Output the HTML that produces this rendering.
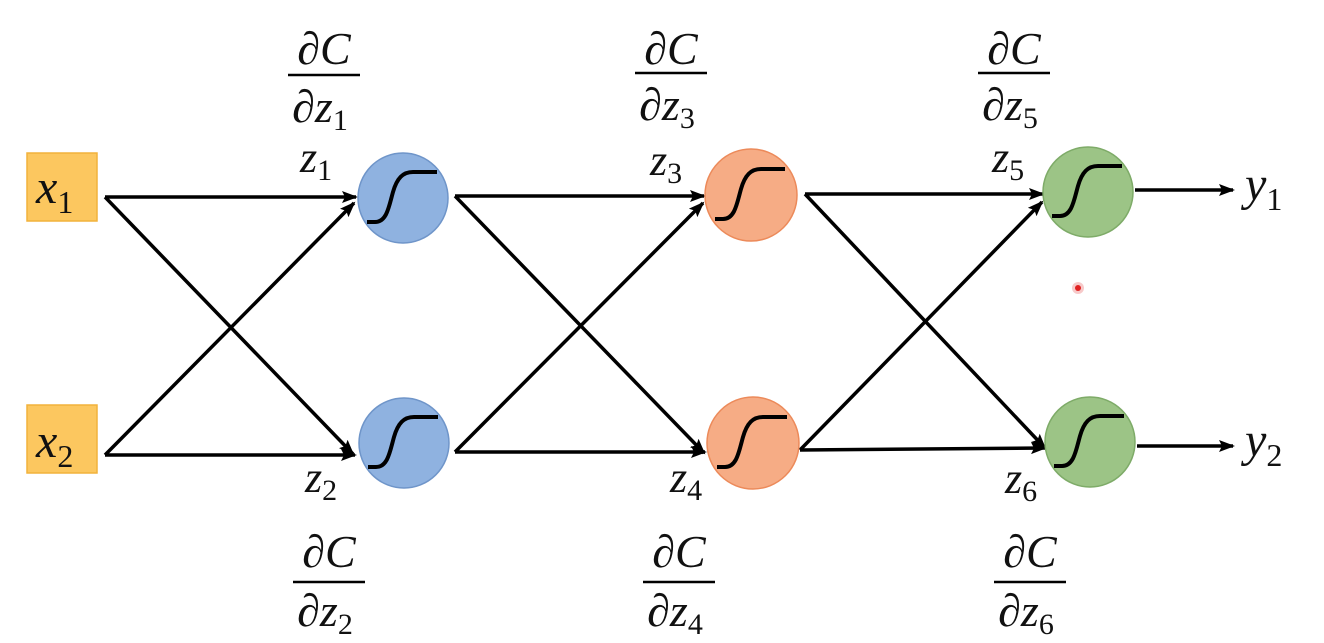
<!DOCTYPE html>
<html><head><meta charset="utf-8"><style>
html,body{margin:0;padding:0;background:#fff;}
svg{display:block;}
text{font-family:"Liberation Serif",serif;font-style:italic;fill:#111;}
.sub{font-style:normal;}
</style></head><body>
<svg width="1324" height="643" viewBox="0 0 1324 643" xmlns="http://www.w3.org/2000/svg">
<defs>
<marker id="ar" markerWidth="16" markerHeight="12" refX="14" refY="6" orient="auto" markerUnits="userSpaceOnUse">
<path d="M0,0 L16,6 L0,12 L3,6 Z" fill="#000"/>
</marker>
<g id="sig"><path d="M-36,24 L-28,24 C-16,24 -14,8 -10,-6 C-6,-20 0,-26 10,-26 L34,-26" fill="none" stroke="#000" stroke-width="4"/></g>
</defs>
<rect x="27" y="153" width="70" height="68" fill="#fcc75f" stroke="#f2b23c" stroke-width="1.5"/>
<rect x="27" y="405" width="70" height="68" fill="#fcc75f" stroke="#f2b23c" stroke-width="1.5"/>
<text x="36" y="203" font-size="48">x<tspan class="sub" font-size="32" dy="10">1</tspan></text>
<text x="36" y="457" font-size="48">x<tspan class="sub" font-size="32" dy="10">2</tspan></text>
<g stroke="#000" stroke-width="3.5" fill="none" marker-end="url(#ar)">
<line x1="105" y1="197" x2="356" y2="197"/>
<line x1="105" y1="197" x2="353" y2="454"/>
<line x1="105" y1="455" x2="355" y2="455"/>
<line x1="105" y1="455" x2="354" y2="203"/>
<line x1="455" y1="196" x2="704" y2="196"/>
<line x1="455" y1="196" x2="704" y2="453"/>
<line x1="455" y1="452" x2="705" y2="452"/>
<line x1="455" y1="452" x2="703" y2="203"/>
<line x1="805" y1="194" x2="1043" y2="194"/>
<line x1="805" y1="194" x2="1045" y2="448"/>
<line x1="800" y1="450" x2="1045" y2="448"/>
<line x1="800" y1="450" x2="1042" y2="202"/>
<line x1="1135" y1="190" x2="1233" y2="190"/>
<line x1="1137" y1="446" x2="1233" y2="446"/>
</g>
<g stroke-width="1.5">
<circle cx="403" cy="198" r="45" fill="#8fb2e0" stroke="#6f95c9"/>
<circle cx="404" cy="443" r="45" fill="#8fb2e0" stroke="#6f95c9"/>
<circle cx="751" cy="195" r="46" fill="#f6ac85" stroke="#ec8a5a"/>
<circle cx="753" cy="443" r="46" fill="#f6ac85" stroke="#ec8a5a"/>
<circle cx="1088" cy="192" r="45" fill="#9cc486" stroke="#7eab68"/>
<circle cx="1090" cy="442" r="45" fill="#9cc486" stroke="#7eab68"/>
</g>
<use href="#sig" x="403" y="198"/>
<use href="#sig" x="404" y="443"/>
<use href="#sig" x="751" y="195"/>
<use href="#sig" x="753" y="443"/>
<use href="#sig" x="1088" y="192"/>
<use href="#sig" x="1090" y="442"/>
<circle cx="1078" cy="288" r="6" fill="#f7c9c9"/>
<circle cx="1078" cy="288" r="3" fill="#e02020"/>
<text x="1245" y="200" font-size="48">y<tspan class="sub" font-size="32" dy="10">1</tspan></text>
<text x="1245" y="456" font-size="48">y<tspan class="sub" font-size="32" dy="10">2</tspan></text>
<text x="300" y="172" font-size="44">z<tspan class="sub" font-size="30" dy="8">1</tspan></text>
<text x="650" y="175" font-size="44">z<tspan class="sub" font-size="30" dy="8">3</tspan></text>
<text x="992" y="172" font-size="44">z<tspan class="sub" font-size="30" dy="8">5</tspan></text>
<text x="305" y="492" font-size="44">z<tspan class="sub" font-size="30" dy="8">2</tspan></text>
<text x="670" y="492" font-size="44">z<tspan class="sub" font-size="30" dy="8">4</tspan></text>
<text x="1005" y="493" font-size="44">z<tspan class="sub" font-size="30" dy="8">6</tspan></text>
<g text-anchor="middle">
<text x="324" y="64" font-size="46">∂C</text><line x1="288" y1="75" x2="360" y2="75" stroke="#000" stroke-width="2.5"/><text x="320" y="122" font-size="46">∂z<tspan class="sub" font-size="30" dy="8">1</tspan></text>
<text x="671" y="64" font-size="46">∂C</text><line x1="635" y1="73" x2="707" y2="73" stroke="#000" stroke-width="2.5"/><text x="667" y="120" font-size="46">∂z<tspan class="sub" font-size="30" dy="8">3</tspan></text>
<text x="1014" y="64" font-size="46">∂C</text><line x1="978" y1="73" x2="1050" y2="73" stroke="#000" stroke-width="2.5"/><text x="1010" y="120" font-size="46">∂z<tspan class="sub" font-size="30" dy="8">5</tspan></text>
<text x="329" y="567" font-size="46">∂C</text><line x1="293" y1="582" x2="365" y2="582" stroke="#000" stroke-width="2.5"/><text x="325" y="626" font-size="46">∂z<tspan class="sub" font-size="30" dy="8">2</tspan></text>
<text x="679" y="567" font-size="46">∂C</text><line x1="643" y1="582" x2="715" y2="582" stroke="#000" stroke-width="2.5"/><text x="675" y="626" font-size="46">∂z<tspan class="sub" font-size="30" dy="8">4</tspan></text>
<text x="1030" y="567" font-size="46">∂C</text><line x1="994" y1="582" x2="1066" y2="582" stroke="#000" stroke-width="2.5"/><text x="1026" y="626" font-size="46">∂z<tspan class="sub" font-size="30" dy="8">6</tspan></text>
</g>
</svg>
</body></html>
